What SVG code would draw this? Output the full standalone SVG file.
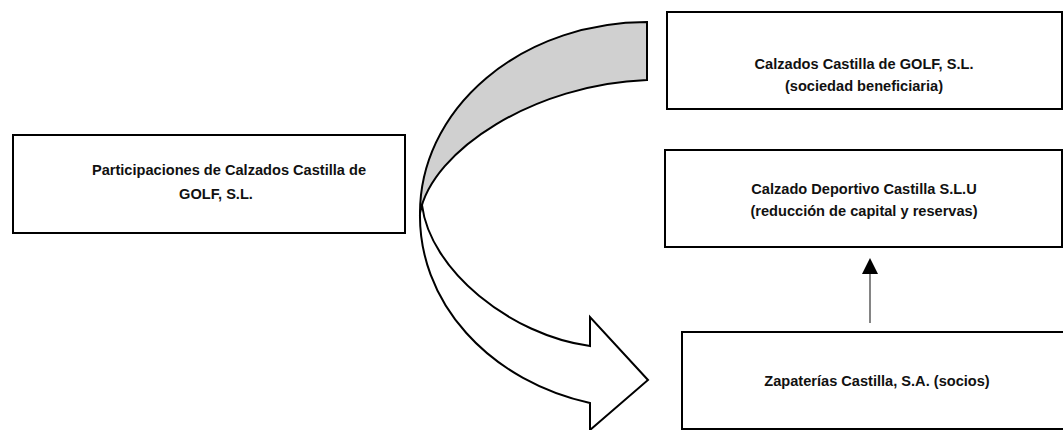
<svg xmlns="http://www.w3.org/2000/svg" width="1063" height="430" viewBox="0 0 1063 430">
  <style>
    .box { fill: #ffffff; stroke: #000000; stroke-width: 2; }
    .lbl { font-family: "Liberation Sans", Arial, sans-serif; font-weight: bold; font-size: 14.6px; fill: #111111; text-anchor: middle; }
    .shape { stroke: #000000; stroke-width: 2; stroke-linejoin: miter; }
    .conn { stroke: #333333; stroke-width: 1.2; fill: none; }
  </style>
  <defs>
    <marker id="tri" viewBox="0 0 16 16" refX="0" refY="8" markerWidth="16" markerHeight="16" markerUnits="userSpaceOnUse" orient="auto">
      <path d="M0,0 L16,8 L0,16 Z" fill="#000000"/>
    </marker>
  </defs>
  <rect width="1063" height="430" fill="#ffffff"/>

  <g id="curved-arrow">
    <path class="shape" fill="#d0d0d0" d="M647,22 A227,191 0 0 0 420,213 C432,150 535,84 647,80 Z"/>
    <path class="shape" fill="#ffffff" d="M422,205 C430,270 510,335 590,346 L590,317 L648,380 L590,430 L590,403 A227,193 0 0 1 420,213 Z"/>
  </g>

  <g id="n-participaciones">
    <rect class="box" x="13" y="135" width="392" height="98"/>
    <text class="lbl" x="229" y="175">Participaciones de Calzados Castilla de</text>
    <text class="lbl" x="216" y="199">GOLF, S.L.</text>
  </g>

  <g id="n-golf">
    <rect class="box" x="667" y="12" width="395" height="97"/>
    <text class="lbl" x="864" y="69">Calzados Castilla de GOLF, S.L.</text>
    <text class="lbl" x="864" y="91">(sociedad beneficiaria)</text>
  </g>

  <g id="n-deportivo">
    <rect class="box" x="665" y="150" width="397" height="97"/>
    <text class="lbl" x="864" y="194">Calzado Deportivo Castilla S.L.U</text>
    <text class="lbl" x="864" y="216">(reducción de capital y reservas)</text>
  </g>

  <g id="n-zapaterias">
    <rect class="box" x="682" y="332" width="392" height="97"/>
    <text class="lbl" x="877" y="386">Zapaterías Castilla, S.A. (socios)</text>
  </g>

  <g id="connectors">
    <line class="conn" x1="870" y1="323" x2="870" y2="274" marker-end="url(#tri)"/>
  </g>
</svg>
